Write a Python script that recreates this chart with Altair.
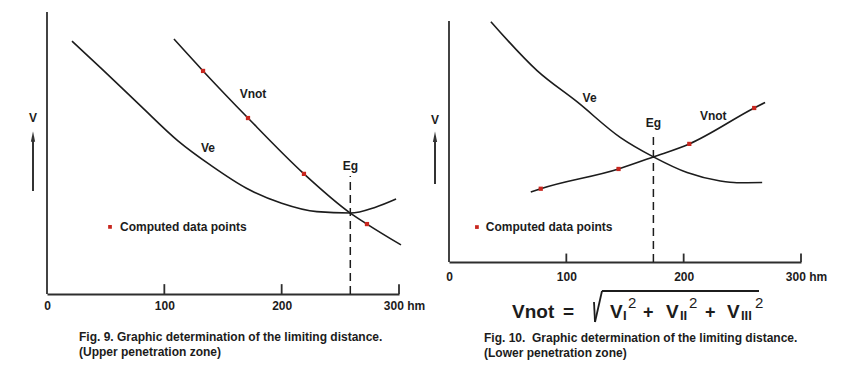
import altair as alt
import pandas as pd

# ---------------- Fig. 9 (upper penetration zone) ----------------
f9_ve_x = [21.3, 46.0, 80.0, 111.6, 140.0, 170.0, 200.0, 230.0, 258.5, 280.0, 297.5]
f9_ve_y = [89.7, 80.1, 66.6, 54.3, 45.5, 37.5, 32.2, 29.2, 28.7, 30.8, 33.7]
f9_vnot_x = [108.2, 133.0, 171.3, 219.0, 258.5, 272.7, 301.7]
f9_vnot_y = [90.4, 79.1, 62.4, 42.6, 28.7, 24.8, 17.4]
f9_pts_x = [133.0, 171.3, 219.0, 272.7]
f9_pts_y = [79.1, 62.4, 42.6, 24.8]
f9_eg = 258.5
f9_eg_top = 41.8

# ---------------- Fig. 10 (lower penetration zone) ----------------
f10_ve_x = [35.7, 75.3, 109.3, 146.2, 174.2, 202.9, 231.2, 245.3, 266.9]
f10_ve_y = [99.7, 79.3, 66.4, 51.6, 43.6, 37.1, 33.6, 32.9, 33.0]
f10_vnot_x = [69.7, 78.2, 144.5, 174.2, 204.8, 260.1, 269.4]
f10_vnot_y = [29.0, 30.4, 38.6, 43.6, 49.0, 63.9, 66.2]
f10_pts_x = [78.2, 144.5, 204.8, 260.1]
f10_pts_y = [30.4, 38.6, 49.0, 63.9]
f10_eg = 174.2
f10_eg_top = 53.5

x_labels = [0, 100, 200, 300]
x_ticks = [100, 200, 300]
curve_names = ["Ve", "Vnot", "Eg"]
f9_label_x = [137.2, 175.6, 258.5]
f9_label_y = [51.8, 70.9, 45.4]
f10_label_x = [119.8, 225.2, 174.2]
f10_label_y = [68.2, 60.6, 57.7]
legend_text = "Computed data points"
caption9 = ["Fig. 9. Graphic determination of the limiting distance.", "(Upper penetration zone)"]
caption10 = ["Fig. 10.\u00a0 Graphic determination of the limiting distance.", "(Lower penetration zone)"]

FONT = "Liberation Sans"
NARROW = "Liberation Sans Narrow, Arial Narrow, Liberation Sans"
INK = "#1c1c1c"
AX = "#2e2e2e"
RED = "#c8261e"
W, H = 352, 282
one = pd.DataFrame({"k": [0]})


def panel(ve_x, ve_y, vn_x, vn_y, p_x, p_y, eg, eg_top, lab_x, lab_y,
          ydom, axis_offset, label_pad, leg_xy, v_y, arrow_y, caption, cap_xy, extra):
    xs = alt.Scale(domain=[0, 300], nice=False, zero=False)
    ys = alt.Scale(domain=ydom, nice=False, zero=False)
    xax = alt.Axis(values=x_labels, ticks=False, grid=False, domainColor=AX, domainWidth=1.8,
                   labelExpr="datum.value == 300 ? '300 hm' : datum.label",
                   labelFont=FONT, labelFontSize=12, labelFontWeight="bold", labelColor=INK,
                   labelPadding=label_pad, labelFlush=False, labelOverlap=False,
                   labelOffset={"condition": {"test": "datum.value == 300", "value": 5}, "value": 0},
                   offset=axis_offset, title=None)

    def X(f):
        return alt.X(f"{f}:Q", scale=xs, axis=xax)

    def Y(f):
        return alt.Y(f"{f}:Q", scale=ys, axis=None)

    yaxis = alt.Chart(pd.DataFrame({"x": [0], "y": [0], "y2": [100]})).mark_rule(
        color=AX, strokeWidth=1.8).encode(x=X("x"), y=Y("y"), y2="y2")
    ticks = alt.Chart(pd.DataFrame({"x": x_ticks, "y": [0] * 3, "y2": [3.5] * 3})).mark_rule(
        color=AX, strokeWidth=1.8).encode(x=X("x"), y=Y("y"), y2="y2")
    ve = alt.Chart(pd.DataFrame({"x": ve_x, "y": ve_y})).mark_line(
        interpolate="monotone", color=INK, strokeWidth=1.6).encode(x=X("x"), y=Y("y"))
    vn = alt.Chart(pd.DataFrame({"x": vn_x, "y": vn_y})).mark_line(
        interpolate="monotone", color=INK, strokeWidth=1.6).encode(x=X("x"), y=Y("y"))
    pts = alt.Chart(pd.DataFrame({"x": p_x, "y": p_y})).mark_square(
        size=18, color=RED, opacity=1).encode(x=X("x"), y=Y("y"))
    egl = alt.Chart(pd.DataFrame({"x": [eg], "y": [0], "y2": [eg_top]})).mark_rule(
        color=INK, strokeWidth=1.5, strokeDash=[8, 5]).encode(x=X("x"), y=Y("y"), y2="y2")
    labels = alt.Chart(pd.DataFrame({"t": curve_names, "x": lab_x, "y": lab_y})).mark_text(
        font=FONT, fontSize=12, fontWeight="bold", color=INK).encode(x=X("x"), y=Y("y"), text="t:N")
    leg_m = alt.Chart(pd.DataFrame({"x": [leg_xy[0]], "y": [leg_xy[1]]})).mark_square(
        size=14, color=RED, opacity=1).encode(x=X("x"), y=Y("y"))
    leg_t = alt.Chart(pd.DataFrame({"x": [leg_xy[2]], "y": [leg_xy[1]], "t": [legend_text]})).mark_text(
        font=FONT, fontSize=12, fontWeight="bold", color=INK, align="left").encode(
        x=X("x"), y=Y("y"), text="t:N")
    vlab = alt.Chart(pd.DataFrame({"y": [v_y], "t": ["V"]})).mark_text(
        font=FONT, fontSize=12, fontWeight="bold", color=INK).encode(
        x=alt.value(-14), y=Y("y"), text="t:N")
    arr = alt.Chart(pd.DataFrame({"y": [arrow_y[0]], "y2": [arrow_y[1]]})).mark_rule(
        color="#333", strokeWidth=2).encode(x=alt.value(-14), y=Y("y"), y2="y2")
    head = alt.Chart(pd.DataFrame({"y": [arrow_y[1]]})).mark_point(
        shape="M0,-1.6L0.45,0.6L-0.45,0.6Z", size=90, filled=True, color="#333", opacity=1).encode(
        x=alt.value(-14), y=Y("y"))
    cap = alt.Chart(one).mark_text(
        text=caption, font=NARROW, fontSize=12, fontWeight="bold", color=INK, align="left",
        baseline="alphabetic", lineHeight=15).encode(x=alt.value(cap_xy[0]), y=alt.value(cap_xy[1]))
    layers = [yaxis, ticks, ve, vn, egl, pts, labels, leg_m, leg_t, vlab, arr, head, cap] + extra
    return alt.layer(*layers).properties(width=W, height=H)


def txt(s, x, y, size, weight="bold"):
    return alt.Chart(one).mark_text(text=s, font=FONT, fontSize=size, fontWeight=weight, color=INK,
                                    align="left", baseline="alphabetic").encode(
        x=alt.value(x), y=alt.value(y))


def seg(x, y, x2, y2):
    return alt.Chart(one).mark_rule(color=INK, strokeWidth=1.8).encode(
        x=alt.value(x), y=alt.value(y), x2=alt.value(x2), y2=alt.value(y2))


formula = [
    txt("Vnot", 63, 306, 19), txt("=", 114, 306, 19),
    seg(145, 290, 146, 310), seg(146, 310, 153, 279), seg(153, 279, 310, 279),
    txt("V", 161, 306, 19), txt("I", 174, 308, 13), txt("2", 179, 296, 15, "normal"),
    txt("+", 194, 306, 18),
    txt("V", 217, 306, 19), txt("II", 231, 308, 13), txt("2", 240, 296, 15, "normal"),
    txt("+", 256, 306, 18),
    txt("V", 278, 306, 19), txt("III", 292, 308, 13), txt("2", 306, 296, 15, "normal"),
]

left = panel(f9_ve_x, f9_ve_y, f9_vnot_x, f9_vnot_y, f9_pts_x, f9_pts_y, f9_eg, f9_eg_top,
             f9_label_x, f9_label_y, [0, 100], 0, 6, (53.7, 23.8, 62.2), 62.4, (36.5, 55.0),
             caption9, (32, 329), [])
right = panel(f10_ve_x, f10_ve_y, f10_vnot_x, f10_vnot_y, f10_pts_x, f10_pts_y, f10_eg, f10_eg_top,
              f10_label_x, f10_label_y, [-13.28, 103.73], -32, 9, (23.8, 14.5, 31.4), 58.9, (32.4, 51.0),
              caption10, (35, 330), formula)

chart = alt.hconcat(left, right, spacing=50, bounds="flush").properties(
    padding={"left": 20, "top": 3, "right": 5, "bottom": 5},
    background="white",
).configure_view(stroke=None)

chart.save("out.html", embed_options={"renderer": "svg", "actions": False})
